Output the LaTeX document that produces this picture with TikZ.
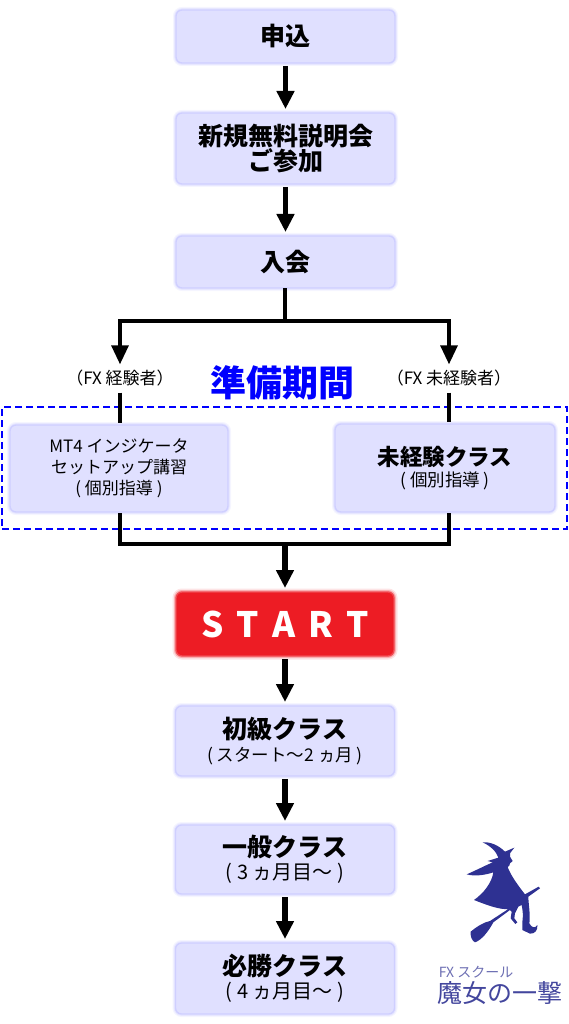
\documentclass[tikz,border=0pt]{standalone}
\usepackage{fontspec}
\setmainfont{Noto Sans CJK JP}
\usetikzlibrary{arrows.meta,positioning}
\definecolor{boxfill}{HTML}{E0E0FF}
\definecolor{boxedge}{HTML}{CFCFFF}
\definecolor{startred}{HTML}{ED1C24}
\definecolor{logoblue}{HTML}{2E3192}
\newcommand{\subtextsize}{\normalfont\fontsize{20}{20}\selectfont}

\begin{document}
\begin{tikzpicture}[
    x=1pt, y=-1pt,
    flowbox/.style={rounded corners=6pt, align=center, fill=boxfill, draw=boxedge, line width=1.4pt, outer sep=0pt,
      preaction={draw=boxedge!20, line width=6pt}, preaction={draw=boxedge!50, line width=3.6pt},
      inner sep=0pt, font=\bfseries\fontsize{25}{25}\selectfont},
    flowarrow/.style={line width=5.5pt, shorten <=3pt, shorten >=4pt, -{Triangle[length=18pt,width=17pt]}},
    flowline/.style={line width=3.3pt},
    branchtext/.style={font=\fontsize{17}{18}\selectfont, inner sep=0pt, minimum height=28pt},
  ]
    \useasboundingbox (0,0) rectangle (568,1024);
    \node[flowbox, minimum width=219pt, minimum height=53pt] (apply) at (285.5,36.5) {\raisebox{1pt}{申込}};
    \node[flowbox, minimum width=219pt, minimum height=71pt, below=50pt of apply] (briefing) {新規無料説明会\\ご参加};
    \node[flowbox, minimum width=219pt, minimum height=52pt, below=52pt of briefing] (join) {\raisebox{3pt}{入会}};
    \node[branchtext] (exp) at (120,378.5) {（FX 経験者）};
    \node[branchtext] (noexp) at (449,378.5) {（FX 未経験者）};
    \node[font=\bfseries\fontsize{36}{38}\selectfont, text=blue, inner sep=0pt] (prep) at (282,383) {準備期間};
    \node[flowbox, minimum width=218pt, minimum height=87pt, font=\fontsize{17}{21}\selectfont] (setup) at (119,468.5) {MT4 インジケータ\\セットアップ講習\\( 個別指導 )};
    \node[flowbox, minimum width=220pt, minimum height=88pt, font=\bfseries\fontsize{22.5}{22.5}\selectfont] (beginner) at (445,468) {未経験クラス\\[-2pt]{\normalfont\fontsize{17.5}{18}\selectfont ( 個別指導 )}};
    \node[flowbox, minimum width=218pt, minimum height=64pt, fill=startred, draw=startred!80, text=white,
      preaction={draw=startred!12, line width=7pt}, preaction={draw=startred!35, line width=4pt},
      font=\bfseries\fontsize{35}{38}\selectfont] (start) at (285,624) {S\hspace{5pt} T\hspace{5pt} A\hspace{5pt} R\hspace{5pt} T};
    \node[flowbox, minimum width=219pt, minimum height=70pt, below=50pt of start] (basic) {初級クラス\\[-2pt]{\normalfont\fontsize{17.5}{18}\selectfont ( スタート～2 ヵ月 )}};
    \node[flowbox, minimum width=219pt, minimum height=69pt, below=49pt of basic] (general) {一般クラス\\[-2pt]{\subtextsize ( 3 ヵ月目～ )}};
    \node[flowbox, minimum width=219pt, minimum height=71pt, below=49pt of general] (win) {必勝クラス\\[-2pt]{\subtextsize ( 4 ヵ月目～ )}};
    \node[draw=blue, line width=1.7pt, dash pattern=on 7pt off 4pt, minimum width=565pt, minimum height=122pt, inner sep=0pt] (period) at (284.5,468) {};
    \coordinate (split) at (285,321);
    \coordinate (merge) at (285,544);
    \draw[flowarrow] (apply) -- (briefing);
    \draw[flowarrow] (briefing) -- (join);
    \draw[flowline] (join.south -| split) -- (split);
    \draw[flowline, -{Triangle[length=19pt,width=17pt]}] (split) -| (exp.north);
    \draw[flowline, -{Triangle[length=19pt,width=17pt]}] (split) -| (noexp.north);
    \draw[flowline] (exp.south) -- ([yshift=2pt]exp.south |- setup.north);
    \draw[flowline] (noexp.south) -- ([yshift=2pt]noexp.south |- beginner.north);
    \draw[flowline] ([yshift=-1pt]exp.south |- setup.south) |- (merge);
    \draw[flowline] ([yshift=-1pt]noexp.south |- beginner.south) |- (merge);
    \draw[flowarrow, shorten <=0pt] (merge) -- (start);
    \draw[flowarrow] (start) -- (basic);
    \draw[flowarrow] (basic) -- (general);
    \draw[flowarrow] (general) -- (win);
    % logo
    \begin{scope}[shift={(460,835)}, x=0.3333pt, y=-0.3333pt]
      \fill[logoblue] (68,22) .. controls (90,20) and (115,30) .. (135,50) -- (163,38) -- (150,55) -- (150,65) -- (158,78) -- (150,85) -- (148,92) -- (143,96)
        .. controls (150,115) and (165,140) .. (195,178) -- (236,155) -- (240,160) -- (205,185) .. controls (205,205) and (212,240) .. (208,265)
        .. controls (215,278) and (225,282) .. (232,270) .. controls (234,285) and (225,297) .. (210,296) -- (187,285) -- (187,262) .. controls (190,240) and (188,225) .. (185,210)
        -- (175,215) -- (165,235) -- (163,250) -- (172,262) -- (166,267) -- (152,250) -- (155,230) -- (150,225) -- (100,262)
        .. controls (85,290) and (65,315) .. (45,322) .. controls (35,318) and (30,300) .. (32,290) .. controls (50,275) and (70,262) .. (90,258)
        -- (145,222) .. controls (120,225) and (80,210) .. (42,195) .. controls (70,175) and (95,145) .. (100,112)
        .. controls (75,120) and (45,125) .. (20,118) .. controls (50,105) and (75,92) .. (98,82) -- (83,78) -- (115,68)
        .. controls (110,50) and (90,32) .. (68,22) -- cycle;
    \end{scope}
    \node[inner sep=0pt, text=logoblue!70, font=\fontsize{14}{14}\selectfont] (logosub) at (476,972) {FX スクール};
    \node[inner sep=0pt, text=logoblue!90, font=\fontsize{25}{25}\selectfont] (logoname) at (500,993) {魔女の一撃};
  \end{tikzpicture}
\end{document}
